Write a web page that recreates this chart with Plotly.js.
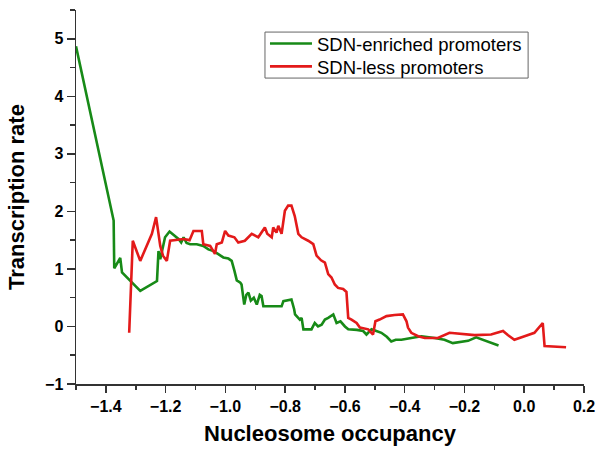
<!DOCTYPE html>
<html>
<head>
<meta charset="utf-8">
<script src="https://cdn.plot.ly/plotly-3.0.1.min.js"></script>
<style>html,body{margin:0;padding:0;background:#fff}#chart{width:600px;height:456px}</style>
</head>
<body>
<div id="chart"></div>
<script>
var seriesNames = ["SDN-enriched promoters", "SDN-less promoters"];

var enrichedX = [-1.5, -1.374, -1.372, -1.352, -1.346, -1.285, -1.229, -1.224, -1.218, -1.213, -1.202, -1.187, -1.170, -1.157, -1.148, -1.140, -1.130, -1.118, -1.096, -1.074, -1.057, -1.040, -1.025, -1.007, -0.990, -0.979, -0.970, -0.962, -0.950, -0.946, -0.937, -0.930, -0.923, -0.915, -0.905, -0.895, -0.885, -0.879, -0.873, -0.860, -0.840, -0.812, -0.806, -0.779, -0.770, -0.767, -0.751, -0.745, -0.739, -0.712, -0.701, -0.690, -0.678, -0.667, -0.656, -0.639, -0.628, -0.615, -0.600, -0.589, -0.560, -0.539, -0.528, -0.511, -0.495, -0.478, -0.460, -0.445, -0.430, -0.411, -0.378, -0.344, -0.300, -0.267, -0.239, -0.210, -0.188, -0.161, -0.086];
var enrichedY = [4.87, 1.84, 1.01, 1.19, 0.94, 0.62, 0.79, 1.31, 1.17, 1.31, 1.55, 1.65, 1.58, 1.52, 1.46, 1.55, 1.45, 1.43, 1.43, 1.40, 1.34, 1.31, 1.26, 1.20, 1.18, 1.14, 0.97, 0.80, 0.76, 0.73, 0.38, 0.55, 0.59, 0.45, 0.50, 0.38, 0.55, 0.53, 0.35, 0.35, 0.35, 0.35, 0.44, 0.47, 0.30, 0.21, 0.12, 0.15, -0.05, -0.05, 0.06, 0.00, 0.03, 0.12, 0.15, 0.21, 0.06, 0.09, 0.00, -0.05, -0.06, -0.08, -0.14, -0.05, -0.08, -0.11, -0.18, -0.26, -0.23, -0.23, -0.20, -0.17, -0.20, -0.23, -0.29, -0.26, -0.25, -0.19, -0.33];

var lessX = [-1.322, -1.310, -1.285, -1.246, -1.232, -1.218, -1.209, -1.196, -1.185, -1.168, -1.140, -1.120, -1.107, -1.079, -1.074, -1.051, -1.035, -1.029, -1.012, -1.001, -0.990, -0.970, -0.957, -0.935, -0.912, -0.890, -0.880, -0.868, -0.860, -0.845, -0.840, -0.829, -0.823, -0.812, -0.801, -0.790, -0.779, -0.768, -0.756, -0.745, -0.723, -0.706, -0.695, -0.680, -0.667, -0.656, -0.645, -0.634, -0.623, -0.606, -0.595, -0.589, -0.578, -0.561, -0.550, -0.522, -0.506, -0.498, -0.484, -0.461, -0.434, -0.406, -0.394, -0.389, -0.378, -0.355, -0.333, -0.289, -0.250, -0.211, -0.166, -0.111, -0.071, -0.055, -0.033, 0.001, 0.034, 0.062, 0.068, 0.140];
var lessY = [-0.11, 1.49, 1.14, 1.61, 1.90, 1.40, 1.23, 1.14, 1.49, 1.50, 1.52, 1.50, 1.66, 1.66, 1.43, 1.40, 1.26, 1.43, 1.46, 1.66, 1.58, 1.55, 1.46, 1.49, 1.61, 1.55, 1.62, 1.72, 1.61, 1.55, 1.72, 1.63, 1.75, 1.61, 2.01, 2.10, 2.10, 1.92, 1.61, 1.55, 1.49, 1.43, 1.23, 1.15, 1.11, 0.91, 0.85, 0.73, 0.67, 0.65, 0.60, 0.15, 0.12, 0.06, -0.02, -0.05, -0.14, 0.09, 0.12, 0.18, 0.20, 0.21, 0.09, -0.02, -0.11, -0.17, -0.20, -0.20, -0.11, -0.13, -0.15, -0.14, -0.08, -0.15, -0.23, -0.17, -0.11, 0.06, -0.34, -0.36];

var xTitle = "Nucleosome occupancy";
var yTitle = "Transcription rate";

var axisColor = "#333333";
var fontFam = "Arial, 'Liberation Sans', sans-serif";
var legendFont = {size: 18.5, family: fontFam, color: "#000"};

var traces = [
  {x: enrichedX, y: enrichedY, name: seriesNames[0], type: "scatter", mode: "lines",
   legend: "legend", line: {color: "#178a17", width: 2.6}},
  {x: lessX, y: lessY, name: seriesNames[1], type: "scatter", mode: "lines",
   legend: "legend2", line: {color: "#e31a1a", width: 2.6}}
];

var layout = {
  width: 600, height: 456,
  margin: {l: 76, r: 16, t: 10, b: 72},
  paper_bgcolor: "#fff", plot_bgcolor: "#fff",
  font: {family: fontFam, color: "#000"},
  showlegend: true,
  legend: {x: 0.372, y: 0.909, xanchor: "left", yanchor: "middle", itemwidth: 42,
           bgcolor: "rgba(0,0,0,0)", borderwidth: 0, font: legendFont},
  legend2: {x: 0.372, y: 0.848, xanchor: "left", yanchor: "middle", itemwidth: 42,
            bgcolor: "rgba(0,0,0,0)", borderwidth: 0, font: legendFont},
  shapes: [{type: "rect", xref: "paper", yref: "paper", x0: 0.372, x1: 0.890, y0: 0.818, y1: 0.941,
            line: {color: "#666", width: 1}, fillcolor: "rgba(0,0,0,0)", layer: "below"}],
  xaxis: {
    range: [-1.5, 0.2], tick0: 0, dtick: 0.2, tickformat: ".1f",
    showline: true, linecolor: axisColor, linewidth: 1.5,
    ticks: "outside", ticklen: 7, tickwidth: 1.5, tickcolor: axisColor,
    minor: {ticks: "outside", dtick: 0.1, ticklen: 4, tickwidth: 1.5, tickcolor: axisColor, showgrid: false},
    showgrid: false, zeroline: false,
    tickfont: {size: 16, weight: "bold", family: fontFam},
    title: {text: xTitle, font: {size: 22, weight: "bold", family: fontFam}, standoff: 12}
  },
  yaxis: {
    range: [-1, 5.5], tick0: 0, dtick: 1,
    showline: true, linecolor: axisColor, linewidth: 1.5,
    ticks: "outside", ticklen: 8, tickwidth: 1.5, tickcolor: axisColor,
    minor: {ticks: "outside", dtick: 0.5, ticklen: 5, tickwidth: 1.5, tickcolor: axisColor, showgrid: false},
    showgrid: false, zeroline: false,
    tickfont: {size: 16, weight: "bold", family: fontFam},
    title: {text: yTitle, font: {size: 22, weight: "bold", family: fontFam}, standoff: 14}
  }
};

Plotly.newPlot("chart", traces, layout, {displayModeBar: false, staticPlot: true});
</script>
</body>
</html>
